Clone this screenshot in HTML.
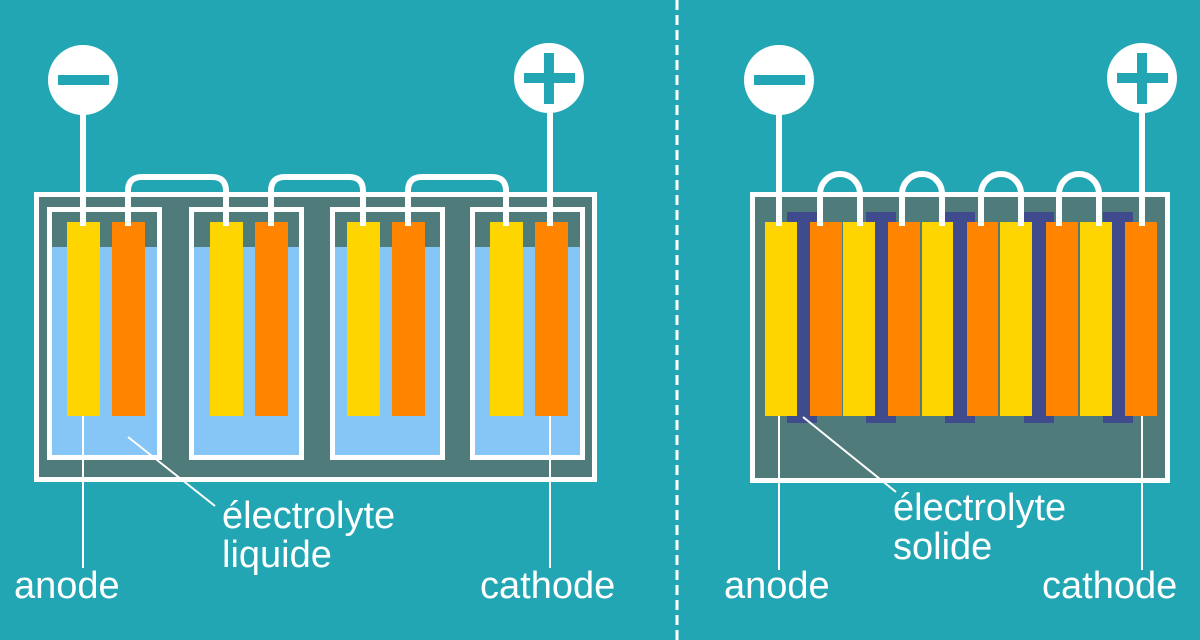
<!DOCTYPE html>
<html><head><meta charset="utf-8"><style>
html,body{margin:0;padding:0;background:#22a6b3;}
svg{display:block;}
text{font-family:"Liberation Sans",sans-serif;font-size:38px;fill:#fff;}
</style></head><body>
<svg width="1200" height="640" viewBox="0 0 1200 640" xmlns="http://www.w3.org/2000/svg">
<rect width="1200" height="640" fill="#22a6b3"/>
<line x1="677" y1="0" x2="677" y2="640" stroke="#fff" stroke-width="3" stroke-dasharray="10,5"/>

<!-- LEFT -->
<rect x="36.5" y="194.5" width="558" height="285" fill="#4f7b7a" stroke="#fff" stroke-width="5"/>
<g>
  <g id="cell">
  </g>
</g>
<!-- cells -->
<g stroke="#fff" stroke-width="5">
  <rect x="49.5" y="209.5" width="110" height="248" fill="#85c6f7"/>
  <rect x="191.5" y="209.5" width="110" height="248" fill="#85c6f7"/>
  <rect x="332.5" y="209.5" width="110" height="248" fill="#85c6f7"/>
  <rect x="472.5" y="209.5" width="110" height="248" fill="#85c6f7"/>
</g>
<g fill="#4f7b7a">
  <rect x="52" y="212" width="105" height="35"/>
  <rect x="194" y="212" width="105" height="35"/>
  <rect x="335" y="212" width="105" height="35"/>
  <rect x="475" y="212" width="105" height="35"/>
</g>
<g fill="#ffd500">
  <rect x="67" y="222" width="33" height="194"/>
  <rect x="210" y="222" width="33" height="194"/>
  <rect x="347" y="222" width="33" height="194"/>
  <rect x="490" y="222" width="33" height="194"/>
</g>
<g fill="#ff8400">
  <rect x="112" y="222" width="33" height="194"/>
  <rect x="255" y="222" width="33" height="194"/>
  <rect x="392" y="222" width="33" height="194"/>
  <rect x="535" y="222" width="33" height="194"/>
</g>
<g fill="none" stroke="#fff" stroke-width="6">
  <path d="M128 226 V191 Q128 177 142 177 H212 Q226 177 226 191 V226"/>
  <path d="M271 226 V191 Q271 177 285 177 H349 Q363 177 363 191 V226"/>
  <path d="M408 226 V191 Q408 177 422 177 H492 Q506 177 506 191 V226"/>
  <line x1="83" y1="100" x2="83" y2="226"/>
  <line x1="550" y1="100" x2="550" y2="226"/>
</g>
<circle cx="83" cy="80" r="35" fill="#fff"/>
<rect x="58" y="75" width="51" height="10" fill="#22a6b3"/>
<circle cx="549" cy="78" r="35" fill="#fff"/>
<rect x="524" y="73" width="51" height="10" fill="#22a6b3"/>
<rect x="544" y="53" width="10" height="51" fill="#22a6b3"/>
<g stroke="#fff" stroke-width="2">
  <line x1="83" y1="416" x2="83" y2="568"/>
  <line x1="550" y1="416" x2="550" y2="568"/>
  <line x1="128" y1="437" x2="215" y2="506"/>
</g>
<text x="14" y="598">anode</text>
<text x="480" y="598">cathode</text>
<text x="222" y="528">électrolyte</text>
<text x="222" y="567">liquide</text>

<!-- RIGHT -->
<rect x="752.5" y="194.5" width="415" height="286" fill="#4f7b7a" stroke="#fff" stroke-width="5"/>
<g fill="#3f4b8c">
  <rect x="797" y="222" width="13" height="194"/><rect x="787" y="212" width="30" height="10"/><rect x="787" y="414" width="30" height="9"/>
  <rect x="875" y="222" width="13" height="194"/><rect x="866" y="212" width="30" height="10"/><rect x="866" y="414" width="30" height="9"/>
  <rect x="953" y="222" width="14" height="194"/><rect x="945" y="212" width="30" height="10"/><rect x="945" y="414" width="30" height="9"/>
  <rect x="1032" y="222" width="14" height="194"/><rect x="1024" y="212" width="30" height="10"/><rect x="1024" y="414" width="30" height="9"/>
  <rect x="1112" y="222" width="13" height="194"/><rect x="1103" y="212" width="30" height="10"/><rect x="1103" y="414" width="30" height="9"/>
</g>
<g fill="#ffd500">
  <rect x="765" y="222" width="32" height="194"/>
  <rect x="843" y="222" width="32" height="194"/>
  <rect x="922" y="222" width="31" height="194"/>
  <rect x="1000" y="222" width="32" height="194"/>
  <rect x="1080" y="222" width="32" height="194"/>
</g>
<g fill="#ff8400">
  <rect x="810" y="222" width="32" height="194"/>
  <rect x="888" y="222" width="32" height="194"/>
  <rect x="967" y="222" width="31" height="194"/>
  <rect x="1046" y="222" width="32" height="194"/>
  <rect x="1125" y="222" width="32" height="194"/>
</g>
<g fill="none" stroke="#fff" stroke-width="6">
  <path d="M820 226 V194 A20 20 0 0 1 860 194 V226"/>
  <path d="M902 226 V194 A20 20 0 0 1 942 194 V226"/>
  <path d="M981 226 V194 A20 20 0 0 1 1021 194 V226"/>
  <path d="M1059 226 V194 A20 20 0 0 1 1099 194 V226"/>
  <line x1="779" y1="100" x2="779" y2="226"/>
  <line x1="1142" y1="100" x2="1142" y2="226"/>
</g>
<circle cx="779" cy="80" r="35" fill="#fff"/>
<rect x="754" y="75" width="51" height="10" fill="#22a6b3"/>
<circle cx="1142" cy="78" r="35" fill="#fff"/>
<rect x="1117" y="73" width="51" height="10" fill="#22a6b3"/>
<rect x="1137" y="53" width="10" height="51" fill="#22a6b3"/>
<g stroke="#fff" stroke-width="2">
  <line x1="779" y1="416" x2="779" y2="570"/>
  <line x1="1142" y1="416" x2="1142" y2="570"/>
  <line x1="803" y1="417" x2="896" y2="492"/>
</g>
<text x="724" y="598">anode</text>
<text x="1042" y="598">cathode</text>
<text x="893" y="520">électrolyte</text>
<text x="893" y="559">solide</text>
</svg>
</body></html>
